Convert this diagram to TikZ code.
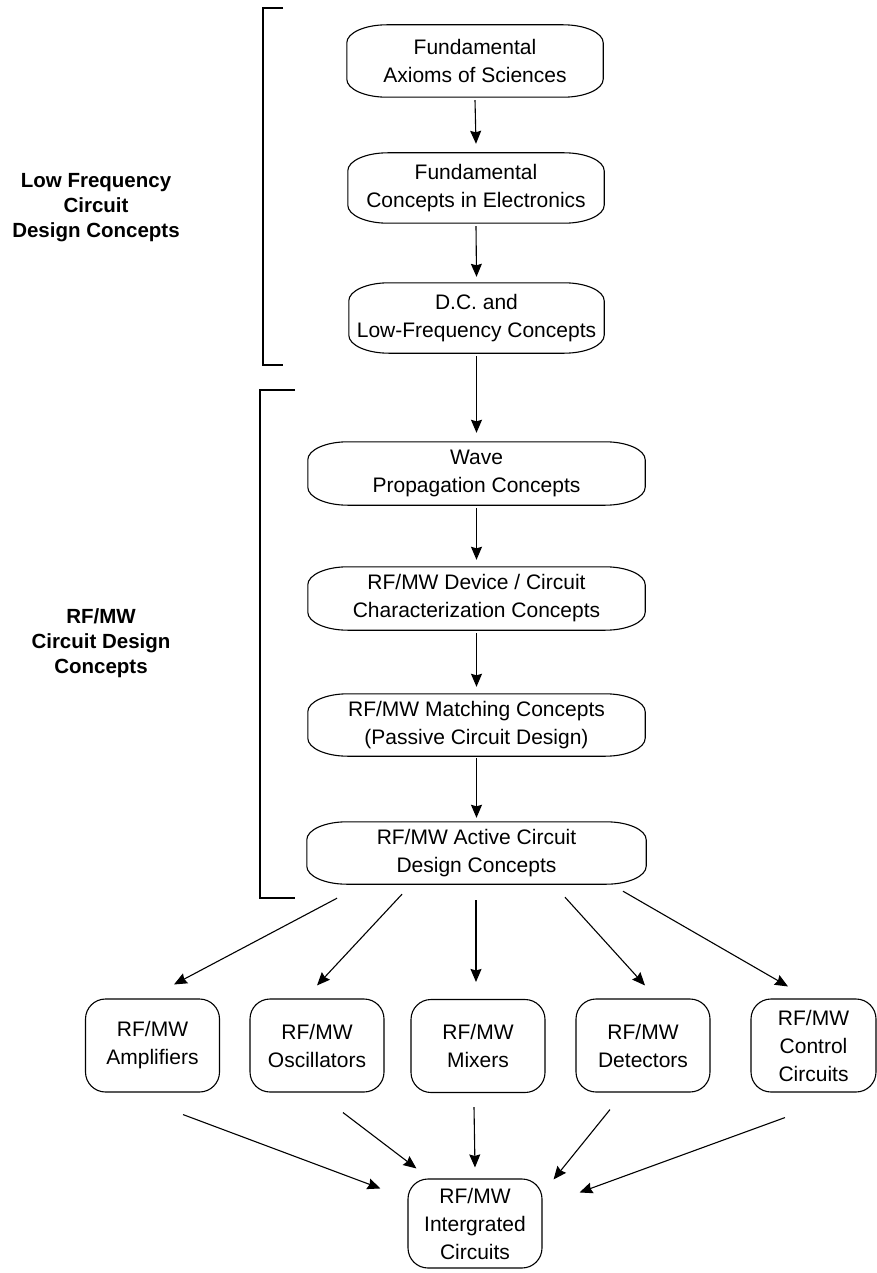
\documentclass[tikz,border=0pt]{standalone}
\usepackage{fontspec}
\setmainfont{Liberation Sans}
\usetikzlibrary{calc,arrows.meta}
\newcommand\ellbox[3]{%
  \draw[boxline] ($(#1.north west)+(#2,0)$) -- ($(#1.north east)+(-#2,0)$)
    arc[start angle=90,end angle=0,x radius=#2,y radius=#3]
    -- ($(#1.south east)+(0,#3)$)
    arc[start angle=0,end angle=-90,x radius=#2,y radius=#3]
    -- ($(#1.south west)+(#2,0)$)
    arc[start angle=270,end angle=180,x radius=#2,y radius=#3]
    -- ($(#1.north west)+(0,-#3)$)
    arc[start angle=180,end angle=90,x radius=#2,y radius=#3] -- cycle;}
\begin{document}
\begin{tikzpicture}[x=1pt,y=1pt,
  boxline/.style={line width=1.1pt},
  ubox/.style={align=center,font=\fontsize{21}{28}\selectfont,inner sep=0pt},
  lbox/.style={draw,line width=1.1pt,rounded corners=20pt,align=center,
    font=\fontsize{21}{28}\selectfont,inner sep=0pt,minimum width=134pt,minimum height=93pt},
  arr/.style={-{Stealth[length=13pt,width=11pt,inset=1.5pt]},line width=1.1pt},
  brk/.style={line width=1.2pt},
  side/.style={font=\bfseries\fontsize{20.5}{25}\selectfont,align=center}]
\useasboundingbox (0,0) rectangle (877,-1273);
% upper chain
\node[ubox,minimum width=256pt,minimum height=72pt] (b1) at (475,-61) {Fundamental\\Axioms of Sciences};
\node[ubox,minimum width=256pt,minimum height=70pt] (b2) at (476,-188) {Fundamental\\Concepts in Electronics};
\node[ubox,minimum width=255pt,minimum height=70pt] (b3) at (476.5,-318) {D.C. and\\Low-Frequency Concepts};
\node[ubox,minimum width=337pt,minimum height=63pt] (b4) at (476.5,-473.5) {Wave\\Propagation Concepts};
\node[ubox,minimum width=337pt,minimum height=63pt] (b5) at (476.5,-598.5) {RF/MW Device / Circuit\\Characterization Concepts};
\node[ubox,minimum width=337pt,minimum height=62pt] (b6) at (476.5,-725) {RF/MW Matching Concepts\\(Passive Circuit Design)};
\node[ubox,minimum width=339pt,minimum height=62pt] (b7) at (476.5,-853) {RF/MW Active Circuit\\Design Concepts};
\foreach \b in {b1,b2,b3,b4,b5,b6,b7} {\ellbox{\b}{40pt}{18pt}}
\draw[arr] ([yshift=-3pt]b1.south) -- ([yshift=9pt]b2.north);
\draw[arr] ([yshift=-3pt]b2.south) -- ([yshift=6pt]b3.north);
\draw[arr] ([yshift=-3pt]b3.south) -- ([yshift=9pt]b4.north);
\draw[arr] ([yshift=-3pt]b4.south) -- ([yshift=7pt]b5.north);
\draw[arr] ([yshift=-3pt]b5.south) -- ([yshift=7pt]b6.north);
\draw[arr] ([yshift=-2pt]b6.south) -- ([yshift=4pt]b7.north);
% brackets and side labels
\draw[brk] (283,-8) -- (263,-8) -- (263,-365) -- (283,-365);
\draw[brk] (295,-390) -- (260,-390) -- (260,-898) -- (295,-898);
\node[side] (lf) at (96,-208) {Low Frequency\\Circuit\\Design Concepts};
\node[side] (rf) at (101,-643) {RF/MW\\Circuit Design\\Concepts};
% lower boxes
\node[lbox] (amp) at (152.5,-1045.5) {RF/MW\\Amplifiers};
\node[lbox] (osc) at (317,-1045.5) {RF/MW\\Oscillators};
\node[lbox] (mix) at (478,-1046) {RF/MW\\Mixers};
\node[lbox] (det) at (643,-1045.5) {RF/MW\\Detectors};
\node[lbox,minimum width=125pt] (ctl) at (813.5,-1045.5) {RF/MW\\Control\\Circuits};
\node[lbox,minimum height=89pt] (ic) at (475,-1223.5) {RF/MW\\Intergrated\\Circuits};
% fan out
\draw[arr] ([xshift=-139.5pt,yshift=-14pt]b7.south) -- ([xshift=21.5pt,yshift=14pt]amp.north);
\draw[arr] ([xshift=-74.5pt,yshift=-10pt]b7.south) -- ([yshift=13pt]osc.north);
\draw[arr] ([xshift=-0.5pt,yshift=-16pt]b7.south) -- ([xshift=-2pt,yshift=17pt]mix.north);
\draw[arr] ([xshift=88.5pt,yshift=-13pt]b7.south) -- ([xshift=2pt,yshift=13pt]det.north);
\draw[arr] ([xshift=146.5pt,yshift=-7pt]b7.south) -- ([xshift=-25.5pt,yshift=12pt]ctl.north);
% fan in
\draw[arr] ([xshift=30.5pt,yshift=-22pt]amp.south) -- ([xshift=-27pt,yshift=-10pt]ic.north west);
\draw[arr] ([xshift=26pt,yshift=-20pt]osc.south) -- ([xshift=9pt,yshift=10pt]ic.north west);
\draw[arr] ([xshift=-4pt,yshift=-14pt]mix.south) -- ([yshift=11pt]ic.north);
\draw[arr] ([xshift=-33pt,yshift=-17pt]det.south) -- ([xshift=11pt,yshift=-1pt]ic.north east);
\draw[arr] ([xshift=-28.5pt,yshift=-25pt]ctl.south) -- ([xshift=37pt,yshift=-14pt]ic.north east);
\end{tikzpicture}
\end{document}
